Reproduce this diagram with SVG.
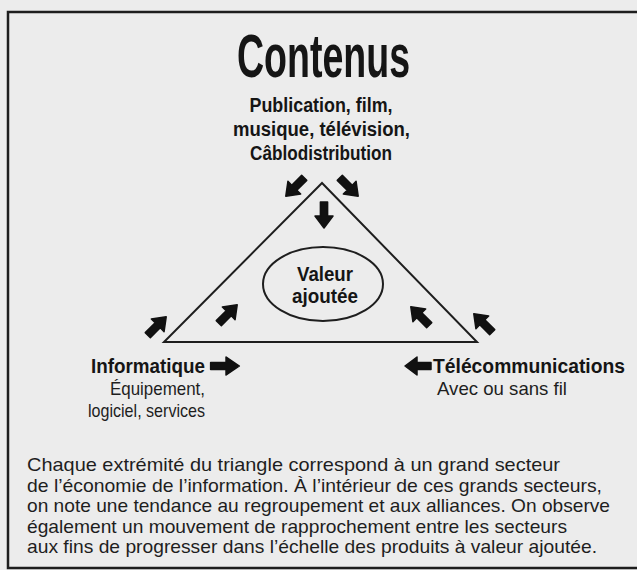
<svg xmlns="http://www.w3.org/2000/svg" xmlns:xlink="http://www.w3.org/1999/xlink" width="637" height="570" viewBox="0 0 637 570">
  <style>
    .bg { fill: #ececec; }
    .frame { fill: none; stroke: #1e1e1e; stroke-width: 2.5; }
    .line { fill: none; stroke: #1e1e1e; stroke-width: 2; }
    .b { font-family: "Liberation Sans", Arial, sans-serif; font-weight: bold; fill: #151515; }
    .r { font-family: "Liberation Sans", Arial, sans-serif; fill: #1e1e1e; }
    .arrow { fill: #111; stroke: #111; stroke-width: 1.5; stroke-linejoin: round; }
  </style>
  <defs>
    <!-- heavy block arrow pointing along +x, centred on the origin -->
    <path id="arr" class="arrow" d="M-13,-3.6 L1,-3.6 L1,-9 L13,0 L1,9 L1,3.6 L-13,3.6 Z"/>
  </defs>

  <rect class="bg" x="0" y="0" width="637" height="570"/>
  <rect class="frame" x="8" y="12" width="640" height="556"/>

  <!-- apex: contents -->
  <g id="contenus">
    <text class="b" x="323.5" y="77" font-size="62" text-anchor="middle" textLength="173" lengthAdjust="spacingAndGlyphs">Contenus</text>
    <text class="b" x="321" y="112" font-size="20" text-anchor="middle" textLength="143" lengthAdjust="spacingAndGlyphs">Publication, film,</text>
    <text class="b" x="321.5" y="136" font-size="20" text-anchor="middle" textLength="177" lengthAdjust="spacingAndGlyphs">musique, télévision,</text>
    <text class="b" x="321" y="160" font-size="20" text-anchor="middle" textLength="142" lengthAdjust="spacingAndGlyphs">Câblodistribution</text>
  </g>

  <!-- triangle and centre -->
  <g id="triangle">
    <polygon class="line" points="322,183 164,342 477,342"/>
  </g>
  <g id="valeur">
    <ellipse class="line" cx="323" cy="284" rx="60" ry="37"/>
    <text class="b" x="325" y="281" font-size="21" text-anchor="middle" textLength="56" lengthAdjust="spacingAndGlyphs">Valeur</text>
    <text class="b" x="325" y="303" font-size="21" text-anchor="middle" textLength="66" lengthAdjust="spacingAndGlyphs">ajoutée</text>
  </g>

  <!-- left corner: computing -->
  <g id="informatique">
    <text class="b" x="205" y="373" font-size="20" text-anchor="end" textLength="114" lengthAdjust="spacingAndGlyphs">Informatique</text>
    <text class="r" x="205" y="395" font-size="19" text-anchor="end" textLength="95" lengthAdjust="spacingAndGlyphs">Équipement,</text>
    <text class="r" x="205" y="417" font-size="19" text-anchor="end" textLength="117" lengthAdjust="spacingAndGlyphs">logiciel, services</text>
  </g>

  <!-- right corner: telecommunications -->
  <g id="telecom">
    <text class="b" x="433" y="373" font-size="20" textLength="192" lengthAdjust="spacingAndGlyphs">Télécommunications</text>
    <text class="r" x="437" y="395" font-size="19" textLength="130" lengthAdjust="spacingAndGlyphs">Avec ou sans fil</text>
  </g>

  <!-- convergence arrows -->
  <g id="connectors">
    <use xlink:href="#arr" transform="translate(295,187) rotate(135)"/>
    <use xlink:href="#arr" transform="translate(349,187) rotate(45)"/>
    <use xlink:href="#arr" transform="translate(324,215) rotate(90)"/>
    <use xlink:href="#arr" transform="translate(157,326) rotate(-45)"/>
    <use xlink:href="#arr" transform="translate(228,314) rotate(-45)"/>
    <use xlink:href="#arr" transform="translate(420,316) rotate(-135)"/>
    <use xlink:href="#arr" transform="translate(483,323) rotate(-135)"/>
    <use xlink:href="#arr" transform="translate(225,366) scale(1.1,1)"/>
    <use xlink:href="#arr" transform="translate(418,366) rotate(180)"/>
  </g>

  <!-- caption -->
  <g id="caption">
    <text class="r" x="27" y="471" font-size="19" textLength="533" lengthAdjust="spacingAndGlyphs">Chaque extrémité du triangle correspond à un grand secteur</text>
    <text class="r" x="27" y="491.5" font-size="19" textLength="575" lengthAdjust="spacingAndGlyphs">de l’économie de l’information. À l’intérieur de ces grands secteurs,</text>
    <text class="r" x="27" y="512" font-size="19" textLength="583" lengthAdjust="spacingAndGlyphs">on note une tendance au regroupement et aux alliances. On observe</text>
    <text class="r" x="27" y="532.5" font-size="19" textLength="540" lengthAdjust="spacingAndGlyphs">également un mouvement de rapprochement entre les secteurs</text>
    <text class="r" x="27" y="553" font-size="19" textLength="570" lengthAdjust="spacingAndGlyphs">aux fins de progresser dans l’échelle des produits à valeur ajoutée.</text>
  </g>
</svg>
